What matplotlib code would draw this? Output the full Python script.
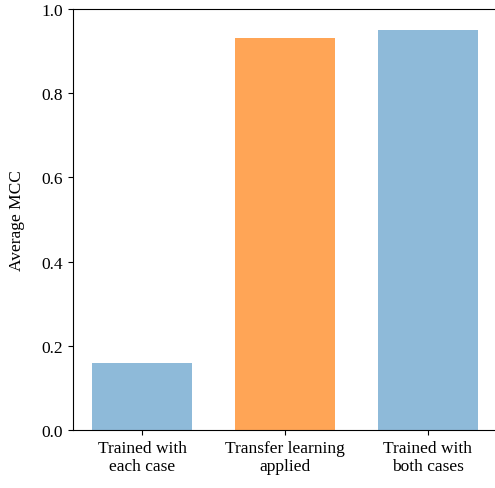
import matplotlib
matplotlib.use("Agg")
import matplotlib.pyplot as plt

# Average MCC for each training setup
categories = ["Trained with\neach case", "Transfer learning\napplied", "Trained with\nboth cases"]
mcc_values = [0.16, 0.93, 0.95]
bar_colors = ["#1f77b4", "#ff7f0e", "#1f77b4"]
bar_alphas = [0.5, 0.7, 0.5]

plt.rcParams["font.family"] = ["Liberation Serif", "DejaVu Serif"]
plt.rcParams["font.size"] = 12.5

fig = plt.figure(figsize=(4.95, 4.89), dpi=100)
ax = fig.add_axes([73 / 495, 58 / 489, 424 / 495, 421 / 489])

positions = range(len(categories))
for x, v, c, a in zip(positions, mcc_values, bar_colors, bar_alphas):
    ax.bar(x, v, width=0.7, color=c, alpha=a, linewidth=0)

ax.set_xticks(list(positions))
ax.set_xticklabels(categories)
ax.set_ylim(0, 1.0)
ax.set_ylabel("Average MCC", labelpad=12)
ax.spines["right"].set_visible(False)

fig.savefig("out.png", dpi=100)
